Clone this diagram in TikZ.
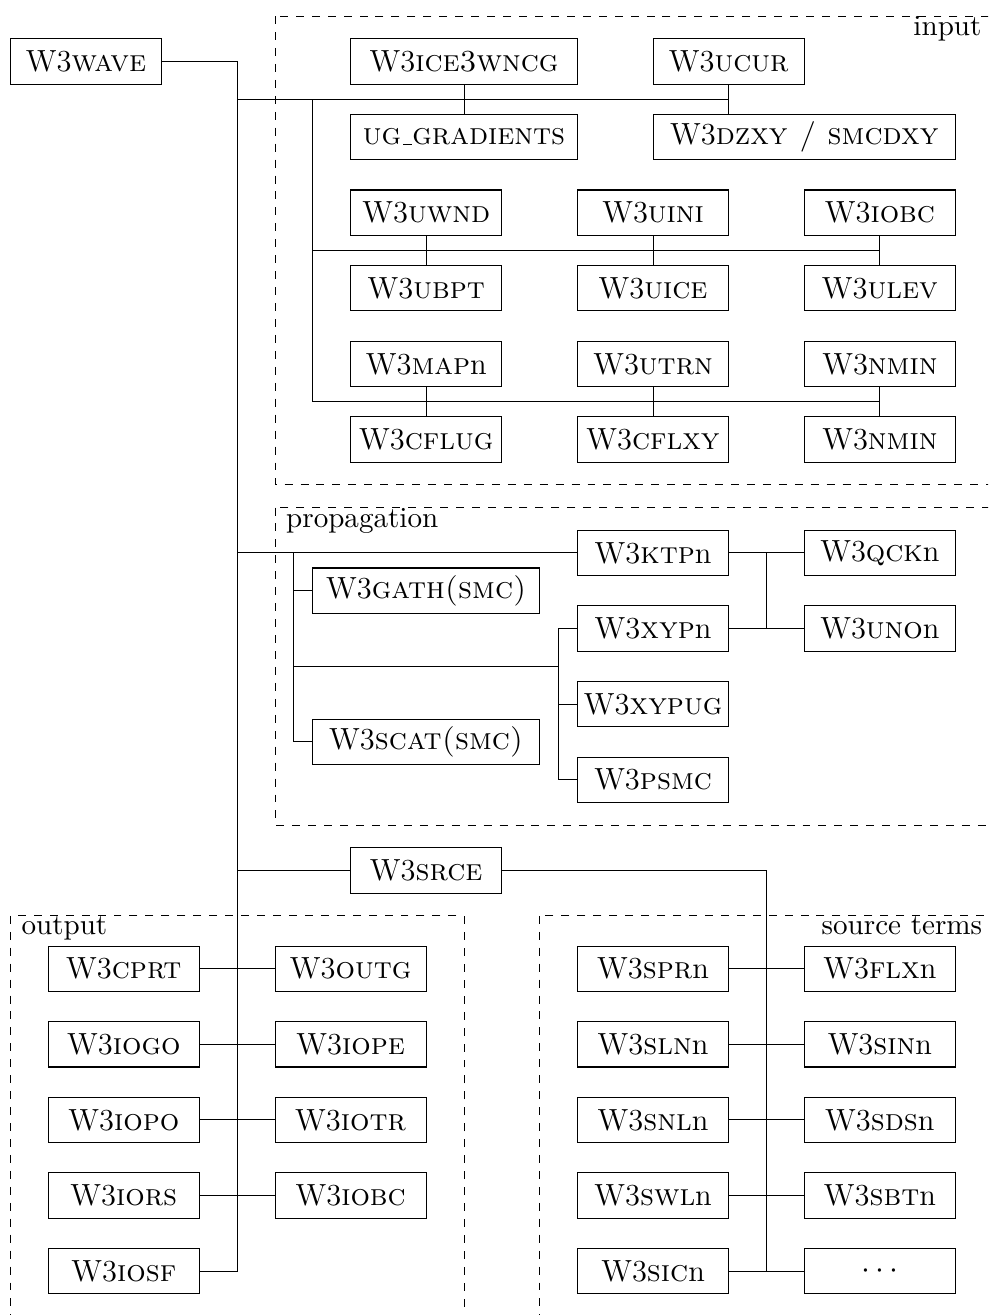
\documentclass[tikz,border=0pt]{standalone}
\usetikzlibrary{calc}
% underscore drawn as a short rule, as in the classic text encoding
\newcommand{\ulbar}{\kern.06em\vbox{\hrule width.3em}}
\begin{document}
\begin{tikzpicture}[
  box/.style={draw, minimum width=2cm, minimum height=0.6cm, inner sep=2pt,
    font=\fontsize{11.5}{14}\selectfont},
  box3/.style={box, minimum width=3cm},
  box4/.style={box, minimum width=4cm},
  group/.style={draw, dashed},
  grouplabel/.style={inner sep=0pt, font=\fontsize{10.95}{13}\selectfont}
]
\useasboundingbox (-1.138,0.813) rectangle (11.93,-16.58);
\clip (-1.138,0.813) rectangle (11.93,-16.58);

% module groups
\draw[group] (2.5,0.6) rectangle (12.2,-5.6);
\draw[group] (2.5,-5.9) rectangle (12.2,-10.1);
\draw[group] (-1,-11.3) rectangle (5,-17);
\draw[group] (6,-11.3) rectangle (12.2,-17);
\node[grouplabel, anchor=base east] (lin) at (11.85,0.34) {input};
\node[grouplabel, anchor=base west] (lprop) at (2.64,-6.16) {propagation};
\node[grouplabel, anchor=base west] (lout) at (-0.86,-11.55) {output};
\node[grouplabel, anchor=base east] (lsrc) at (11.86,-11.55) {source terms};

% main program
\node[box] (wave) at (0,0) {W3\textsc{wave}};

% input
\node[box3] (ice) at (5,0) {W3\textsc{ice3wncg}};
\node[box] (ucur) at (8.5,0) {W3\textsc{ucur}};
\node[box3] (ug) at (5,-1) {\textsc{ug}\ulbar\textsc{gradients}};
\node[box4] (dzxy) at (9.5,-1) {W3\textsc{dzxy / smcdxy}};
\node[box] (uwnd) at (4.5,-2) {W3\textsc{uwnd}};
\node[box] (uini) at (7.5,-2) {W3\textsc{uini}};
\node[box] (iobca) at (10.5,-2) {W3\textsc{iobc}};
\node[box] (ubpt) at (4.5,-3) {W3\textsc{ubpt}};
\node[box] (uice) at (7.5,-3) {W3\textsc{uice}};
\node[box] (ulev) at (10.5,-3) {W3\textsc{ulev}};
\node[box] (mapn) at (4.5,-4) {W3\textsc{map}n};
\node[box] (utrn) at (7.5,-4) {W3\textsc{utrn}};
\node[box] (nmina) at (10.5,-4) {W3\textsc{nmin}};
\node[box] (cflug) at (4.5,-5) {W3\textsc{cflug}};
\node[box] (cflxy) at (7.5,-5) {W3\textsc{cflxy}};
\node[box] (nminb) at (10.5,-5) {W3\textsc{nmin}};

% propagation
\node[box] (ktpn) at (7.5,-6.5) {W3\textsc{ktp}n};
\node[box3] (gath) at (4.5,-7) {W3\textsc{gath(smc)}};
\node[box] (xypn) at (7.5,-7.5) {W3\textsc{xyp}n};
\node[box] (xypug) at (7.5,-8.5) {W3\textsc{xypug}};
\node[box3] (scat) at (4.5,-9) {W3\textsc{scat(smc)}};
\node[box] (psmc) at (7.5,-9.5) {W3\textsc{psmc}};
\node[box] (qckn) at (10.5,-6.5) {W3\textsc{qck}n};
\node[box] (unon) at (10.5,-7.5) {W3\textsc{uno}n};

% source terms driver
\node[box] (srce) at (4.5,-10.7) {W3\textsc{srce}};

% output
\node[box] (cprt) at (0.5,-12) {W3\textsc{cprt}};
\node[box] (outg) at (3.5,-12) {W3\textsc{outg}};
\node[box] (iogo) at (0.5,-13) {W3\textsc{iogo}};
\node[box] (iope) at (3.5,-13) {W3\textsc{iope}};
\node[box] (iopo) at (0.5,-14) {W3\textsc{iopo}};
\node[box] (iotr) at (3.5,-14) {W3\textsc{iotr}};
\node[box] (iors) at (0.5,-15) {W3\textsc{iors}};
\node[box] (iobcb) at (3.5,-15) {W3\textsc{iobc}};
\node[box] (iosf) at (0.5,-16) {W3\textsc{iosf}};

% source terms
\node[box] (sprn) at (7.5,-12) {W3\textsc{spr}n};
\node[box] (flxn) at (10.5,-12) {W3\textsc{flx}n};
\node[box] (slnn) at (7.5,-13) {W3\textsc{sln}n};
\node[box] (sinn) at (10.5,-13) {W3\textsc{sin}n};
\node[box] (snln) at (7.5,-14) {W3\textsc{snl}n};
\node[box] (sdsn) at (10.5,-14) {W3\textsc{sds}n};
\node[box] (swln) at (7.5,-15) {W3\textsc{swl}n};
\node[box] (sbtn) at (10.5,-15) {W3\textsc{sbt}n};
\node[box] (sicn) at (7.5,-16) {W3\textsc{sic}n};
\node[box] (more) at (10.5,-16) {$\cdots$};

% trunk from the main program
\coordinate (trunk) at (2,0);
\draw (wave.east) -- (trunk) |- (iosf.east);

% input connections
\coordinate (inA) at (3,-0.5);
\coordinate (inB) at (3,-2.5);
\coordinate (inC) at (3,-4.5);
\draw (trunk |- inA) -- (ucur.south |- inA);
\draw (ice) -- (ug);
\draw (ucur.south) -- (ucur.south |- dzxy.north);
\draw (inA) -- (inC);
\draw (inB) -- (inB -| iobca.south);
\draw (uwnd) -- (ubpt);
\draw (uini) -- (uice);
\draw (iobca) -- (ulev);
\draw (inC) -- (inC -| nmina.south);
\draw (mapn) -- (cflug);
\draw (utrn) -- (cflxy);
\draw (nmina) -- (nminb);

% propagation connections
\coordinate (pA) at (2.75,-6.5);
\coordinate (pB) at (2.75,-8);
\coordinate (pC) at (6.25,-8);
\coordinate (pD) at (6.25,-7.5);
\coordinate (pE) at (9,-6.5);
\draw (trunk |- ktpn) -- (ktpn);
\draw (pA) |- (scat.west);
\draw (pA |- gath) -- (gath);
\draw (pB) -- (pC);
\draw (xypn.west) -- (pD) |- (psmc.west);
\draw (pD |- xypug) -- (xypug.west);
\draw (ktpn) -- (qckn);
\draw (xypn) -- (unon);
\draw (pE) -- (pE |- unon);

% source term connections
\coordinate (sJ) at (9,-10.7);
\draw (trunk |- srce) -- (srce);
\draw (srce) -- (sJ) |- (sicn.east);
\draw (sprn) -- (flxn);
\draw (slnn) -- (sinn);
\draw (snln) -- (sdsn);
\draw (swln) -- (sbtn);
\draw (sicn) -- (more);

% output connections
\draw (cprt) -- (outg);
\draw (iogo) -- (iope);
\draw (iopo) -- (iotr);
\draw (iors) -- (iobcb);
\end{tikzpicture}
\end{document}
